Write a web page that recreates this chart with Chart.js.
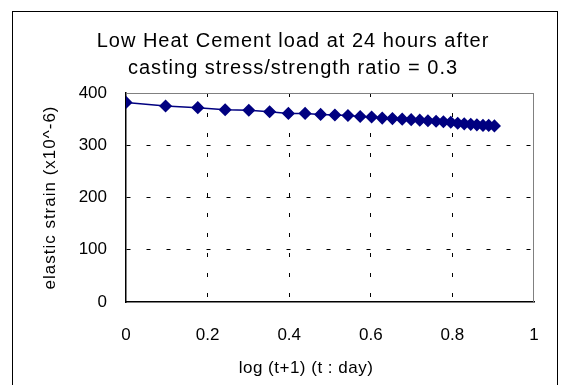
<!DOCTYPE html>
<html>
<head>
<meta charset="utf-8">
<script src="https://cdn.jsdelivr.net/npm/chart.js@4.4.0/dist/chart.umd.min.js"></script>
<style>
  html, body { margin: 0; padding: 0; background: #fff; }
</style>
</head>
<body>
<canvas id="strainChart" width="568" height="385"></canvas>
<script>
// title and axis labels
const titleLines = ["Low Heat Cement load at 24 hours after", "casting stress/strength ratio = 0.3"];
const xTitle = "log (t+1) (t : day)";
const yTitle = "elastic strain (x10^-6)";

// log(t+1), t = 0 .. 7 days
const logDays = [0, 0.097, 0.176, 0.243, 0.301, 0.352, 0.398, 0.439, 0.477, 0.512,
  0.544, 0.574, 0.602, 0.628, 0.653, 0.677, 0.699, 0.720, 0.740, 0.760,
  0.778, 0.796, 0.813, 0.829, 0.845, 0.860, 0.875, 0.889, 0.903];
// elastic strain (x10^-6)
const strain = [382, 375, 372, 368, 367, 364, 361, 361, 359, 358,
  357, 355, 354, 352, 351, 350, 349, 348, 347, 346,
  345, 344, 342, 341, 340, 339, 338, 338, 337];

const xTicks = [0, 0.2, 0.4, 0.6, 0.8, 1];
const yTicks = [0, 100, 200, 300, 400];

const FONT = "'Liberation Sans', Arial, sans-serif";
const NAVY = "#000080";

// outer frame, plot frame, title and axis titles
const decorPlugin = {
  id: "decor",
  beforeDraw(chart) {
    const ctx = chart.ctx;
    ctx.save();
    ctx.fillStyle = "#fff";
    ctx.fillRect(0, 0, chart.width, chart.height);
    ctx.strokeStyle = "#000";
    ctx.lineWidth = 1;
    ctx.strokeRect(12.5, 11.5, 545, 400);
    ctx.restore();
  },
  afterDatasetsDraw(chart) {
    const ctx = chart.ctx;
    const a = chart.chartArea;
    ctx.save();
    ctx.strokeStyle = "#808080";
    ctx.lineWidth = 1;
    ctx.beginPath();
    ctx.moveTo(a.left, Math.round(a.top) + 0.5);
    ctx.lineTo(a.right, Math.round(a.top) + 0.5);
    ctx.moveTo(Math.round(a.right) - 0.5, a.top);
    ctx.lineTo(Math.round(a.right) - 0.5, a.bottom);
    ctx.stroke();

    ctx.fillStyle = "#000";
    ctx.textAlign = "center";
    ctx.textBaseline = "middle";
    ctx.font = "20px " + FONT;
    ctx.letterSpacing = "1px";
    ctx.fillText(titleLines[0], 293, 41);
    ctx.fillText(titleLines[1], 293, 68);

    ctx.font = "17px " + FONT;
    ctx.letterSpacing = "0.5px";
    ctx.fillText(xTitle, 306, 368);

    ctx.letterSpacing = "1px";
    ctx.translate(50, (a.top + a.bottom) / 2);
    ctx.rotate(-Math.PI / 2);
    ctx.fillText(yTitle, 0, 0);
    ctx.restore();
  }
};

let ctx = document.getElementById("strainChart");
let chart = new Chart(ctx, {
  type: "line",
  data: {
    datasets: [{
      data: logDays.map((x, i) => ({ x: x, y: strain[i] })),
      borderColor: NAVY,
      backgroundColor: NAVY,
      borderWidth: 1.5,
      pointStyle: "rectRot",
      pointRadius: 5.5,
      pointHoverRadius: 5.5,
      pointBackgroundColor: NAVY,
      pointBorderColor: NAVY,
      tension: 0
    }]
  },
  options: {
    responsive: false,
    animation: false,
    devicePixelRatio: 1,
    layout: { padding: { left: 38, right: 34, top: 93, bottom: 7 } },
    plugins: {
      legend: { display: false },
      tooltip: { enabled: false }
    },
    scales: {
      x: {
        type: "linear",
        min: 0,
        max: 1,
        afterBuildTicks(scale) { scale.ticks = xTicks.map(v => ({ value: v })); },
        afterFit(scale) { scale.height = 76; },
        ticks: {
          color: "#000",
          padding: 23,
          font: { family: FONT, size: 17 },
          callback: v => String(Math.round(v * 10) / 10)
        },
        grid: {
          drawTicks: false,
          color: c => (c.tick && c.tick.value > 0 && c.tick.value < 1) ? "#000" : "transparent",
          lineWidth: 1
        },
        border: { display: true, color: "#000", width: 1.5, dash: [4, 16] }
      },
      y: {
        min: 0,
        max: 400,
        afterBuildTicks(scale) { scale.ticks = yTicks.map(v => ({ value: v })); },
        afterFit(scale) { scale.width = 88; },
        ticks: {
          color: "#000",
          padding: 19,
          font: { family: FONT, size: 17 }
        },
        grid: {
          drawTicks: false,
          color: c => (c.tick && c.tick.value > 0 && c.tick.value < 400) ? "#000" : "transparent",
          lineWidth: 1
        },
        border: { display: true, color: "#000", width: 1.5, dash: [4, 16] }
      }
    }
  },
  plugins: [decorPlugin]
});
</script>
</body>
</html>
